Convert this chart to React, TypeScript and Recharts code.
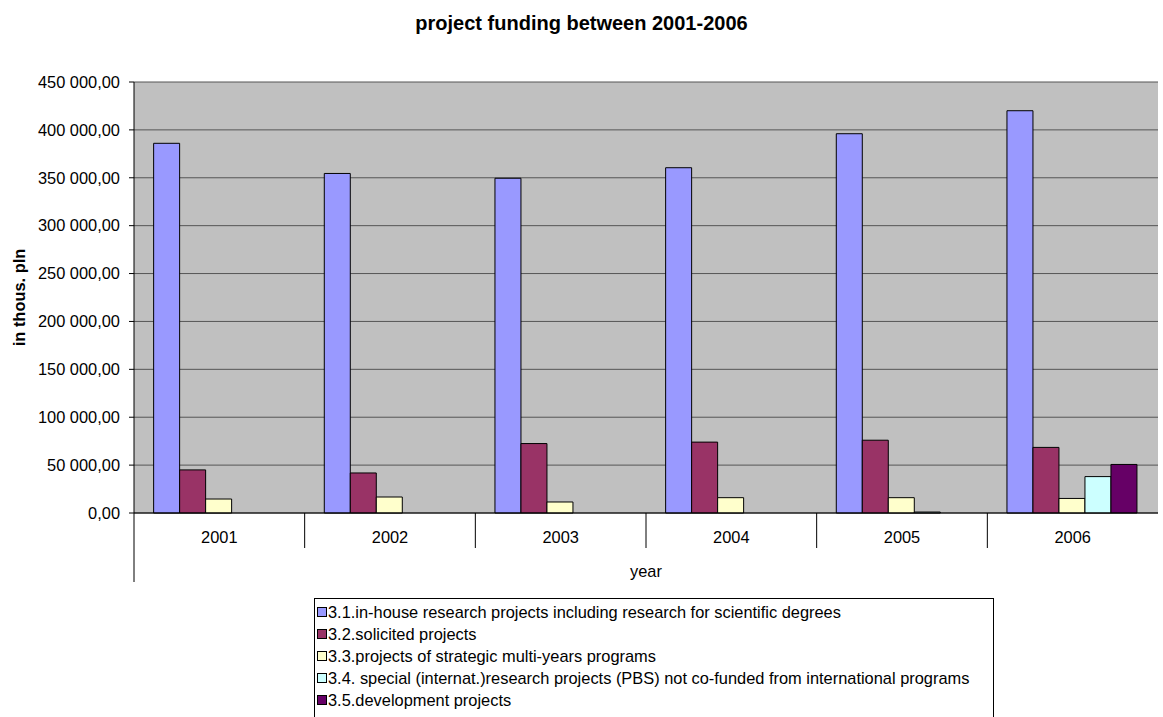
import { BarChart, Bar, XAxis, YAxis, CartesianGrid, Legend } from "recharts";

const years = ["2001", "2002", "2003", "2004", "2005", "2006"];
const inHouse = [386000, 354500, 349500, 360500, 396000, 420000];
const solicited = [45000, 41800, 72500, 74000, 76000, 68500];
const strategic = [14600, 16700, 11500, 16000, 16000, 15200];
const special = [0, 0, 0, 0, 1000, 38000];
const development = [0, 0, 0, 0, 0, 50700];
const yTicks = [0, 50000, 100000, 150000, 200000, 250000, 300000, 350000, 400000, 450000];

const seriesNames = [
  "3.1.in-house research projects including research for scientific degrees",
  "3.2.solicited projects",
  "3.3.projects of strategic multi-years programs",
  "3.4. special (internat.)research projects (PBS) not co-funded from international programs",
  "3.5.development projects",
];
const colors = ["#9999FF", "#993366", "#FFFFCC", "#CCFFFF", "#660066"];

const data = years.map((y, i) => ({
  year: y,
  s1: inHouse[i],
  s2: solicited[i],
  s3: strategic[i],
  s4: special[i],
  s5: development[i],
}));

const W = 1163;
const H = 717;
const LEFT = 134;
const RIGHT = 5;
const BAND = (W - LEFT - RIGHT) / years.length;
const FONT = "Arial, 'Liberation Sans', sans-serif";
const FS = 16.4;

const fmt = (v: number) =>
  Math.round(v).toString().replace(/\B(?=(\d{3})+(?!\d))/g, " ") + ",00";

// category labels plus the Excel-style cell borders under the axis
function YearTick(props: any) {
  const { x, y, payload, index } = props;
  return (
    <g>
      <text x={x} y={y + 22} textAnchor="middle" fontSize={FS} fontFamily={FONT} fill="#000">
        {payload.value}
      </text>
      {index === 0 && <line x1={x - BAND / 2} x2={x - BAND / 2} y1={y - 8} y2={y + 61} stroke="#000" />}
      {index < years.length - 1 && (
        <line x1={x + BAND / 2} x2={x + BAND / 2} y1={y - 8} y2={y + 27} stroke="#000" />
      )}
    </g>
  );
}

function LegendBox() {
  return (
    <div
      style={{
        border: "1px solid #000",
        borderBottom: "none",
        background: "#fff",
        width: 680,
        height: 120,
        padding: "2px 0 0 2px",
        fontFamily: FONT,
        fontSize: FS,
        boxSizing: "border-box",
      }}
    >
      {seriesNames.map((n, i) => (
        <div key={n} style={{ display: "flex", alignItems: "center", height: 22, whiteSpace: "nowrap" }}>
          <span
            style={{
              display: "inline-block",
              width: 8,
              height: 8,
              border: "1px solid #000",
              background: colors[i],
              marginRight: 1,
            }}
          />
          {n}
        </div>
      ))}
    </div>
  );
}

export default function App() {
  const keys = ["s1", "s2", "s3", "s4", "s5"];
  return (
    <div style={{ position: "absolute", left: 0, top: 0, width: W, height: H, background: "#fff", overflow: "hidden" }}>
      <div
        style={{
          position: "absolute",
          top: 12,
          left: 0,
          width: W,
          textAlign: "center",
          fontFamily: FONT,
          fontWeight: "bold",
          fontSize: 20,
        }}
      >
        project funding between 2001-2006
      </div>
      <BarChart
        width={W}
        height={H}
        data={data}
        margin={{ top: 82, right: RIGHT, left: 0, bottom: 134 }}
        barCategoryGap="11.5%"
        barGap={0}
      >
        <CartesianGrid vertical={false} stroke="#555" fill="#C0C0C0" />
        <XAxis
          dataKey="year"
          height={70}
          axisLine={{ stroke: "#000" }}
          tickLine={false}
          tick={<YearTick />}
          interval={0}
          label={{ value: "year", position: "insideBottom", offset: 6, fontSize: FS, fontFamily: FONT, fill: "#000" }}
        />
        <YAxis
          width={LEFT}
          domain={[0, 450000]}
          ticks={yTicks}
          tickFormatter={fmt}
          axisLine={{ stroke: "#000" }}
          tickLine={{ stroke: "#000" }}
          tickSize={5}
          tickMargin={9}
          tick={{ fontSize: FS, fontFamily: FONT, fill: "#000" }}
          label={{
            value: "in thous. pln",
            angle: -90,
            position: "insideLeft",
            offset: 19,
            style: { textAnchor: "middle", fontWeight: "bold", fontSize: FS, fontFamily: FONT, fill: "#000" },
          }}
        />
        <Legend
          layout="vertical"
          align="center"
          verticalAlign="middle"
          wrapperStyle={{ top: 598, left: 314, width: 680 }}
          content={<LegendBox />}
        />
        {keys.map((k, i) => (
          <Bar key={k} dataKey={k} name={seriesNames[i]} fill={colors[i]} stroke="#000" strokeWidth={1} isAnimationActive={false} />
        ))}
      </BarChart>
    </div>
  );
}
